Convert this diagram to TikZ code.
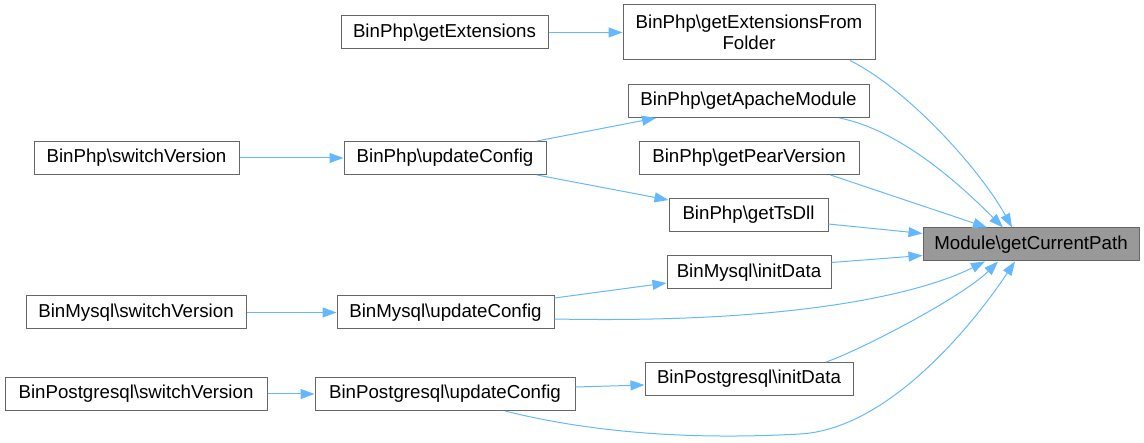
\documentclass[tikz,border=0pt]{standalone}
\usepackage{fontspec}
\setmainfont{Liberation Sans}
\usepackage{xcolor}
\usepackage{tikz}
\usetikzlibrary{arrows.meta}
\definecolor{dxedge}{HTML}{63B8FF}
\definecolor{dxborder}{HTML}{666666}
\definecolor{dxfocus}{HTML}{999999}

\begin{document}
\begin{tikzpicture}[
  x=1pt, y=-1pt,
  fnbox/.style={rectangle, draw=dxborder, fill=white, line width=1pt,
               inner sep=0pt, minimum height=33pt, align=center,
               font=\fontsize{18.7}{21}\selectfont},
  focusbox/.style={fnbox, fill=dxfocus},
  calls/.style={dxedge, line width=1pt, -{Triangle[length=14pt,width=10pt]}},
]
\useasboundingbox (0,0) rectangle (1144,443);

% Callee
\node[focusbox, minimum width=216pt] (cur) at (1031,244.5) {Module\textbackslash getCurrentPath};

% Direct callers
\node[fnbox, minimum width=252pt, minimum height=55pt] (extff) at (749,32.5) {BinPhp\textbackslash getExtensionsFrom\\Folder};
\node[fnbox, minimum width=241pt] (apache) at (748.5,101) {BinPhp\textbackslash getApacheModule};
\node[fnbox, minimum width=220pt] (pear) at (749,158) {BinPhp\textbackslash getPearVersion};
\node[fnbox, minimum width=159pt] (tsdll) at (748.5,215) {BinPhp\textbackslash getTsDll};
\node[fnbox, minimum width=164pt] (myinit) at (749,272.5) {BinMysql\textbackslash initData};
\node[fnbox, minimum width=208pt] (pginit) at (749,379) {BinPostgresql\textbackslash initData};

% Second level
\node[fnbox, minimum width=207pt] (ext) at (444.5,32.5) {BinPhp\textbackslash getExtensions};
\node[fnbox, minimum width=202pt] (phpupd) at (445,158) {BinPhp\textbackslash updateConfig};
\node[fnbox, minimum width=217pt] (myupd) at (445.5,312.5) {BinMysql\textbackslash updateConfig};
\node[fnbox, minimum width=260pt] (pgupd) at (445,394) {BinPostgresql\textbackslash updateConfig};

% Third level
\node[fnbox, minimum width=205pt] (phpsw) at (136.5,158) {BinPhp\textbackslash switchVersion};
\node[fnbox, minimum width=220pt] (mysw) at (136,312.5) {BinMysql\textbackslash switchVersion};
\node[fnbox, minimum width=262pt] (pgsw) at (136,394) {BinPostgresql\textbackslash switchVersion};

% Arrows into the callee
\draw[calls] ([xshift=101pt]extff.south) .. controls +(60,30) and +(-30,-55) .. ([xshift=-19pt]cur.north);
\draw[calls] ([xshift=91pt]apache.south) .. controls +(60,12) and +(-45,-45) .. ([xshift=-28pt]cur.north);
\draw[calls] ([xshift=-29pt]pear.south east) -- ([xshift=-44pt]cur.north);
\draw[calls] ([yshift=-9pt]tsdll.east) -- ([yshift=11pt]cur.west);
\draw[calls] ([yshift=10pt]myinit.east) -- ([yshift=-11pt]cur.west);
\draw[calls] ([yshift=-6.5pt]myupd.east) .. controls +(250,5) and +(-60,30) .. ([xshift=-46pt]cur.south);
\draw[calls] ([xshift=77pt]pginit.north) .. controls +(35,-12) and +(-35,35) .. ([xshift=-33pt]cur.south);
\draw[calls] ([xshift=60pt]pgupd.south) .. controls +(100,25) and +(-90,5) .. (800,434)
  .. controls +(90,-5) and +(-40,60) .. ([xshift=-16pt]cur.south);

% Arrows between callers
\draw[calls] (ext.east) -- (extff.west);
\draw[calls] ([xshift=92pt]phpupd.north) -- ([xshift=-92.5pt]apache.south);
\draw[calls] ([xshift=92pt]phpupd.south) -- ([yshift=-2pt]tsdll.north west);
\draw[calls] ([yshift=14.5pt]myupd.east) -- ([yshift=-10.5pt]myinit.west);
\draw[calls] ([yshift=7pt]pgupd.east) -- ([yshift=-6pt]pginit.west);
\draw[calls] (phpsw.east) -- (phpupd.west);
\draw[calls] (mysw.east) -- (myupd.west);
\draw[calls] (pgsw.east) -- (pgupd.west);

\end{tikzpicture}
\end{document}
